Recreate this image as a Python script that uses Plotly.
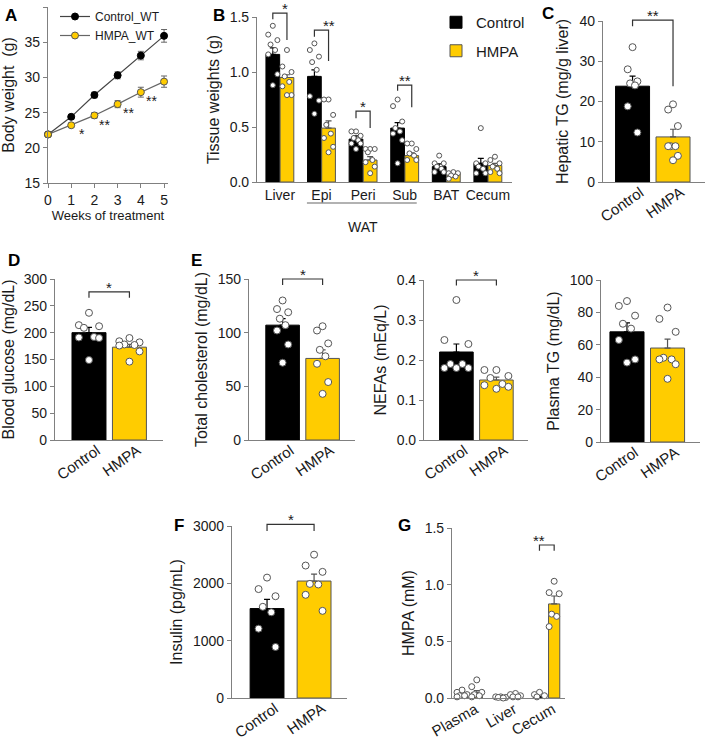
import plotly.graph_objects as go

W, H = 708, 740
CTRL = "#000000"
HMPA = "#FFCC00"
AXC = "#808080"
TXT = "#1a1a1a"

# ---- A: body weight ----
weeks = [0, 1, 2, 3, 4, 5]
bw_ctrl = [21.9, 24.4, 27.5, 30.3, 33.1, 35.9]
bw_ctrl_sem = [0.2, 0.3, 0.4, 0.5, 0.6, 0.9]
bw_hmpa = [21.9, 23.2, 24.6, 26.2, 27.9, 29.4]
bw_hmpa_sem = [0.2, 0.3, 0.4, 0.5, 0.7, 0.8]
bw_stars = ["", "*", "**", "**", "**", "**"]

# ---- B: tissue weights ----
tissues = ["Liver", "Epi", "Peri", "Sub", "BAT", "Cecum"]
tissue_ctrl = [1.16, 0.96, 0.39, 0.49, 0.14, 0.17]
tissue_ctrl_sem = [0.06, 0.06, 0.03, 0.05, 0.025, 0.045]
tissue_hmpa = [0.95, 0.49, 0.20, 0.24, 0.08, 0.15]
tissue_hmpa_sem = [0.025, 0.065, 0.03, 0.025, 0.015, 0.02]
tissue_ctrl_pts = [
    [1.42, 1.34, 1.29, 1.25, 1.20, 1.16, 0.98, 0.88],
    [1.26, 1.20, 1.14, 1.09, 1.02, 0.78, 0.74, 0.62],
    [0.46, 0.46, 0.42, 0.40, 0.38, 0.35, 0.35, 0.30],
    [0.75, 0.69, 0.55, 0.49, 0.46, 0.44, 0.38, 0.17],
    [0.24, 0.17, 0.17, 0.14, 0.12, 0.09, 0.09],
    [0.49, 0.17, 0.17, 0.14, 0.12, 0.08, 0.08],
]
tissue_hmpa_pts = [
    [1.20, 1.05, 1.00, 0.96, 0.91, 0.87, 0.79, 0.79],
    [0.75, 0.75, 0.61, 0.52, 0.44, 0.40, 0.32, 0.27],
    [0.30, 0.30, 0.30, 0.27, 0.20, 0.18, 0.14, 0.08],
    [0.35, 0.35, 0.30, 0.26, 0.24, 0.20, 0.20],
    [0.09, 0.08, 0.08, 0.06, 0.05, 0.03],
    [0.23, 0.20, 0.17, 0.14, 0.12, 0.09, 0.08],
]
# (group, top, left leg end, right leg end, label)
tissue_sig = [(0, 1.536, 1.48, 1.29, "*"), (1, 1.38, 1.32, 1.10, "**"),
              (2, 0.645, 0.58, 0.49, "*"), (3, 0.88, 0.83, 0.68, "**")]

groups = ["Control", "HMPA"]

# ---- C: hepatic TG ----
htg_mean = [23.8, 11.2]
htg_sem = [2.5, 1.9]
htg_pts = [[33.5, 28.0, 25.0, 24.5, 24.0, 18.8, 12.3],
           [19.3, 18.0, 13.9, 8.9, 8.9, 8.9, 6.5, 5.4]]

# ---- D: blood glucose ----
glu_mean = [200, 173]
glu_sem = [10, 5]
glu_pts = [[237, 214, 212, 209, 192, 191, 190, 149],
           [190, 184, 182, 178, 177, 176, 165, 146]]

# ---- E: plasma lipids ----
chol_mean = [107, 76]
chol_sem = [6, 8]
chol_pts = [[130, 122, 119, 113, 107, 102, 89, 72],
            [106, 102, 90, 84, 78, 71, 54, 43]]
nefa_mean = [0.22, 0.15]
nefa_sem = [0.02, 0.007]
nefa_pts = [[0.35, 0.25, 0.24, 0.19, 0.19, 0.18, 0.18, 0.18],
            [0.175, 0.175, 0.16, 0.155, 0.14, 0.137, 0.133, 0.128]]
ptg_mean = [68, 58]
ptg_sem = [5.5, 5.5]
ptg_pts = [[87, 84, 78, 73, 70, 63, 51, 49],
           [83, 76, 68, 52, 51, 51, 48, 39]]

# ---- F: insulin ----
ins_mean = [1560, 2040]
ins_sem = [160, 120]
ins_pts = [[2100, 1900, 1775, 1590, 1495, 1210, 890],
           [2500, 2310, 2200, 1990, 1980, 1800, 1520]]

# ---- G: HMPA concentration ----
sites = ["Plasma", "Liver", "Cecum"]
hc_ctrl = [0.02, 0.005, 0.01]
hc_ctrl_sem = [0.005, 0.002, 0.004]
hc_hmpa = [0.045, 0.01, 0.83]
hc_hmpa_sem = [0.02, 0.005, 0.07]
hc_ctrl_pts = [[0.07, 0.05, 0.03, 0.02, 0.02, 0.01],
               [0.01, 0.01, 0.005, 0.005, 0.0],
               [0.05, 0.03, 0.02, 0.01]]
hc_hmpa_pts = [[0.16, 0.10, 0.05, 0.03, 0.02, 0.01],
               [0.04, 0.03, 0.02, 0.01, 0.01],
               [1.03, 0.93, 0.92, 0.74, 0.72, 0.63]]

# panel boxes in pixels: x0, x1, ytop, ybottom, xrange, yrange
panels = {
    "A": dict(ax="", box=(48, 168, 7, 183), xr=[0, 5.17], yr=[15, 40]),
    "B": dict(ax="2", box=(257, 512, 17, 182), xr=[-0.55, 5.58], yr=[0, 1.5]),
    "C": dict(ax="3", box=(603, 705, 21, 182), xr=[-0.73, 1.79], yr=[0, 40]),
    "D": dict(ax="4", box=(55, 163, 279, 440), xr=[-0.84, 1.83], yr=[0, 300]),
    "E1": dict(ax="5", box=(249, 355, 279, 440), xr=[-0.84, 1.81], yr=[0, 150]),
    "E2": dict(ax="6", box=(424, 528, 280, 440), xr=[-0.81, 1.79], yr=[0, 0.4]),
    "E3": dict(ax="7", box=(601, 700, 280, 442), xr=[-0.64, 1.80], yr=[0, 100]),
    "F": dict(ax="8", box=(232, 347, 526, 698), xr=[-0.745, 1.70], yr=[0, 3000]),
    "G": dict(ax="9", box=(452, 565, 528, 698), xr=[-0.45, 2.47], yr=[0, 1.5]),
}

JIT = [0, -1, 1, -0.5, 0.5, -1, 1, 0, -0.5, 0.5]


def jitter(vals, center, spread):
    order = sorted(range(len(vals)), key=lambda k: -vals[k])
    xs = [0] * len(vals)
    for rank, k in enumerate(order):
        xs[k] = center + JIT[rank % len(JIT)] * spread
    return xs


fig = go.Figure()
shapes = []
annotations = []


def refs(p):
    a = panels[p]["ax"]
    return "x" + a, "y" + a


def dom(p, x, y):
    xr, yr = panels[p]["xr"], panels[p]["yr"]
    return (x - xr[0]) / (xr[1] - xr[0]), (y - yr[0]) / (yr[1] - yr[0])


def bracket(p, x0, x1, top, yl, yrr, label):
    xa, ya = refs(p)
    a0, t = dom(p, x0, top)
    a1, l = dom(p, x1, yl)
    _, r = dom(p, x1, yrr)
    shapes.append(dict(type="path", xref=xa + " domain", yref=ya + " domain",
                       path=f"M {a0},{l} L {a0},{t} L {a1},{t} L {a1},{r}",
                       line=dict(color="#333333", width=1.2)))
    annotations.append(dict(text=label, xref=xa + " domain", yref=ya + " domain",
                            x=(a0 + a1) / 2, y=t, yanchor="bottom", showarrow=False,
                            yshift=-6, font=dict(size=15, color=TXT)))


def bars(p, xs, vals, sems, color, lcol, width, name=None, legend=False):
    xa, ya = refs(p)
    fig.add_trace(go.Bar(
        x=xs, y=vals, width=width, xaxis=xa, yaxis=ya, name=name,
        marker=dict(color=color, line=dict(color=lcol, width=1)),
        error_y=dict(type="data", symmetric=False, array=sems,
                     arrayminus=[0] * len(sems), color=lcol, thickness=1.2, width=3),
        showlegend=legend, legend="legend2", legendgroup=name))


def points(p, xs, vals, size):
    xa, ya = refs(p)
    fig.add_trace(go.Scatter(
        x=xs, y=vals, mode="markers", xaxis=xa, yaxis=ya, showlegend=False,
        cliponaxis=False,
        marker=dict(color="white", size=size, line=dict(color="#555555", width=1))))


# ---- Panel A ----
fig.add_trace(go.Scatter(
    x=weeks, y=bw_ctrl, name="Control_WT", mode="lines+markers", cliponaxis=False,
    line=dict(color="#444444", width=1.2),
    marker=dict(color="black", size=7, line=dict(color="black", width=1)),
    error_y=dict(type="data", array=bw_ctrl_sem, color="#666666", thickness=1, width=3)))
fig.add_trace(go.Scatter(
    x=weeks, y=bw_hmpa, name="HMPA_WT", mode="lines+markers", cliponaxis=False,
    line=dict(color="#666666", width=1.2),
    marker=dict(color=HMPA, size=7, line=dict(color="#555555", width=1)),
    error_y=dict(type="data", array=bw_hmpa_sem, color="#666666", thickness=1, width=3)))
for w, v, s in zip(weeks, bw_hmpa, bw_stars):
    if s:
        annotations.append(dict(text=s, x=w + 0.45, y=v - 1.3, xref="x", yref="y",
                                showarrow=False, font=dict(size=14, color=TXT)))

# ---- Panel B ----
off, bwid = 0.17, 0.33
gx = list(range(len(tissues)))
bars("B", [g - off for g in gx], tissue_ctrl, tissue_ctrl_sem, CTRL, CTRL, bwid, "Control", True)
bars("B", [g + off for g in gx], tissue_hmpa, tissue_hmpa_sem, HMPA, "#555555", bwid, "HMPA", True)
for g in gx:
    points("B", jitter(tissue_ctrl_pts[g], g - off, 0.11), tissue_ctrl_pts[g], 5)
    points("B", jitter(tissue_hmpa_pts[g], g + off, 0.11), tissue_hmpa_pts[g], 5)
for g, top, yl, yrr, lab in tissue_sig:
    bracket("B", g - off, g + off, top, yl, yrr, lab)
wx0, _ = dom("B", 0.65, 0)
wx1, _ = dom("B", 3.29, 0)
shapes.append(dict(type="line", xref="x2 domain", yref="paper", x0=wx0, x1=wx1,
                   y0=1 - 203 / H, y1=1 - 203 / H, line=dict(color="#999999", width=1.5)))
annotations.append(dict(text="WAT", xref="x2", yref="paper", x=2, y=1 - 217 / H,
                        showarrow=False, font=dict(size=14, color=TXT)))

# ---- two-group panels ----
two = [("C", htg_mean, htg_sem, htg_pts, 0.84, 0.12, (40.2, 38.7, 23.8, "**")),
       ("D", glu_mean, glu_sem, glu_pts, 0.84, 0.25, (276, 265, 265, "*")),
       ("E1", chol_mean, chol_sem, chol_pts, 0.84, 0.14, (150, 144.5, 144.5, "*")),
       ("E2", nefa_mean, nefa_sem, nefa_pts, 0.84, 0.3, (0.4, 0.386, 0.386, "*")),
       ("E3", ptg_mean, ptg_sem, ptg_pts, 0.84, 0.2, None),
       ("F", ins_mean, ins_sem, ins_pts, 0.72, 0.18, (3030, 2912, 2912, "*"))]
for p, mean, sem, pts, bw, sp, sig in two:
    bars(p, [0], mean[:1], sem[:1], CTRL, CTRL, bw)
    bars(p, [1], mean[1:], sem[1:], HMPA, "#555555", bw)
    points(p, jitter(pts[0], 0, sp), pts[0], 7)
    points(p, jitter(pts[1], 1, sp), pts[1], 7)
    if sig:
        bracket(p, 0, 1, *sig)

# ---- Panel G ----
goff, gbw = 0.19, 0.29
sx = list(range(len(sites)))
bars("G", [s - goff for s in sx], hc_ctrl, hc_ctrl_sem, CTRL, CTRL, gbw)
bars("G", [s + goff for s in sx], hc_hmpa, hc_hmpa_sem, HMPA, "#555555", gbw)
for s in sx:
    points("G", jitter(hc_ctrl_pts[s], s - goff, 0.13), hc_ctrl_pts[s], 6)
    points("G", jitter(hc_hmpa_pts[s], s + goff, 0.13), hc_hmpa_pts[s], 6)
bracket("G", 2 - goff, 2 + goff, 1.35, 1.30, 1.30, "**")

# ---- axes ----
def base_axis(**kw):
    d = dict(showline=True, linecolor=AXC, linewidth=1.2, ticks="outside", ticklen=4,
             tickwidth=1.2, tickcolor=AXC, showgrid=False, zeroline=False, fixedrange=True,
             automargin=False,
             tickfont=dict(size=14, color=TXT), title_font=dict(size=16, color=TXT))
    d.update(kw)
    return d


ytitles = {"A": "Body weight  (g)", "B": "Tissue weights (g)", "C": "Hepatic TG (mg/g liver)",
           "D": "Blood glucose (mg/dL)", "E1": "Total cholesterol (mg/dL)",
           "E2": "NEFAs (mEq/L)", "E3": "Plasma TG (mg/dL)", "F": "Insulin (pg/mL)",
           "G": "HMPA (mM)"}
ydt = {"A": 5, "B": 0.5, "C": 10, "D": 50, "E1": 50, "E2": 0.1, "E3": 20, "F": 1000, "G": 0.5}
yfmt = {"B": ".1f", "E2": ".1f", "G": ".1f"}

layout_axes = {}
for p, cfg in panels.items():
    x0, x1, yt, yb = cfg["box"]
    a = cfg["ax"]
    yid = "y" + a
    if p == "A":
        xa = base_axis(domain=[x0 / W, x1 / W], range=cfg["xr"], dtick=1,
                       title=dict(text="Weeks of treatment", standoff=0, font=dict(size=13)),
                       anchor=yid)
    elif p == "B":
        xa = base_axis(domain=[x0 / W, x1 / W], range=cfg["xr"], tickvals=gx,
                       ticktext=tissues, ticks="", anchor=yid)
    elif p == "G":
        xa = base_axis(domain=[x0 / W, x1 / W], range=cfg["xr"], tickvals=sx,
                       ticktext=sites, ticks="", tickangle=-30, anchor=yid,
                       ticklabelshift=6, ticklabelstandoff=-4,
                       tickfont=dict(size=15, color=TXT))
    else:
        xa = base_axis(domain=[x0 / W, x1 / W], range=cfg["xr"], tickvals=[0, 1],
                       ticktext=groups, ticks="", tickangle=-35, anchor=yid,
                       ticklabelshift=8, ticklabelstandoff=-5,
                       tickfont=dict(size=15, color=TXT))
    ya = base_axis(domain=[1 - yb / H, 1 - yt / H], range=cfg["yr"], dtick=ydt[p],
                   tickformat=yfmt.get(p, ""), title=dict(text=ytitles[p], standoff=6),
                   anchor="x" + a)
    layout_axes["xaxis" + a] = xa
    layout_axes["yaxis" + a] = ya

# panel letters
for lab, lx, ly in [("A", 3, 4), ("B", 211, 4), ("C", 540, 2), ("D", 6, 249),
                    ("E", 189, 249), ("F", 172, 514), ("G", 396, 514)]:
    annotations.append(dict(text=f"<b>{lab}</b>", xref="paper", yref="paper",
                            x=lx / W, y=1 - ly / H, xanchor="left", yanchor="top",
                            showarrow=False, font=dict(size=17, color="black")))

fig.update_layout(
    width=W, height=H, margin=dict(l=0, r=0, t=0, b=0, autoexpand=False),
    paper_bgcolor="white", plot_bgcolor="white",
    font=dict(family="Liberation Sans, Arial, sans-serif", color=TXT),
    barmode="overlay", shapes=shapes, annotations=annotations,
    legend=dict(x=55 / W, y=1 - 2 / H, xanchor="left", yanchor="top", bgcolor="rgba(0,0,0,0)",
                font=dict(size=12), itemwidth=30, tracegroupgap=0),
    legend2=dict(x=436 / W, y=1 - 6 / H, xanchor="left", yanchor="top",
                 bgcolor="rgba(0,0,0,0)", font=dict(size=15), tracegroupgap=6),
    **layout_axes,
)

# page body margin off so the 708x740 figure sits at the window origin
fig.write_html("out.html", config={"displayModeBar": False},
               post_script="document.body.style.margin='0';")
